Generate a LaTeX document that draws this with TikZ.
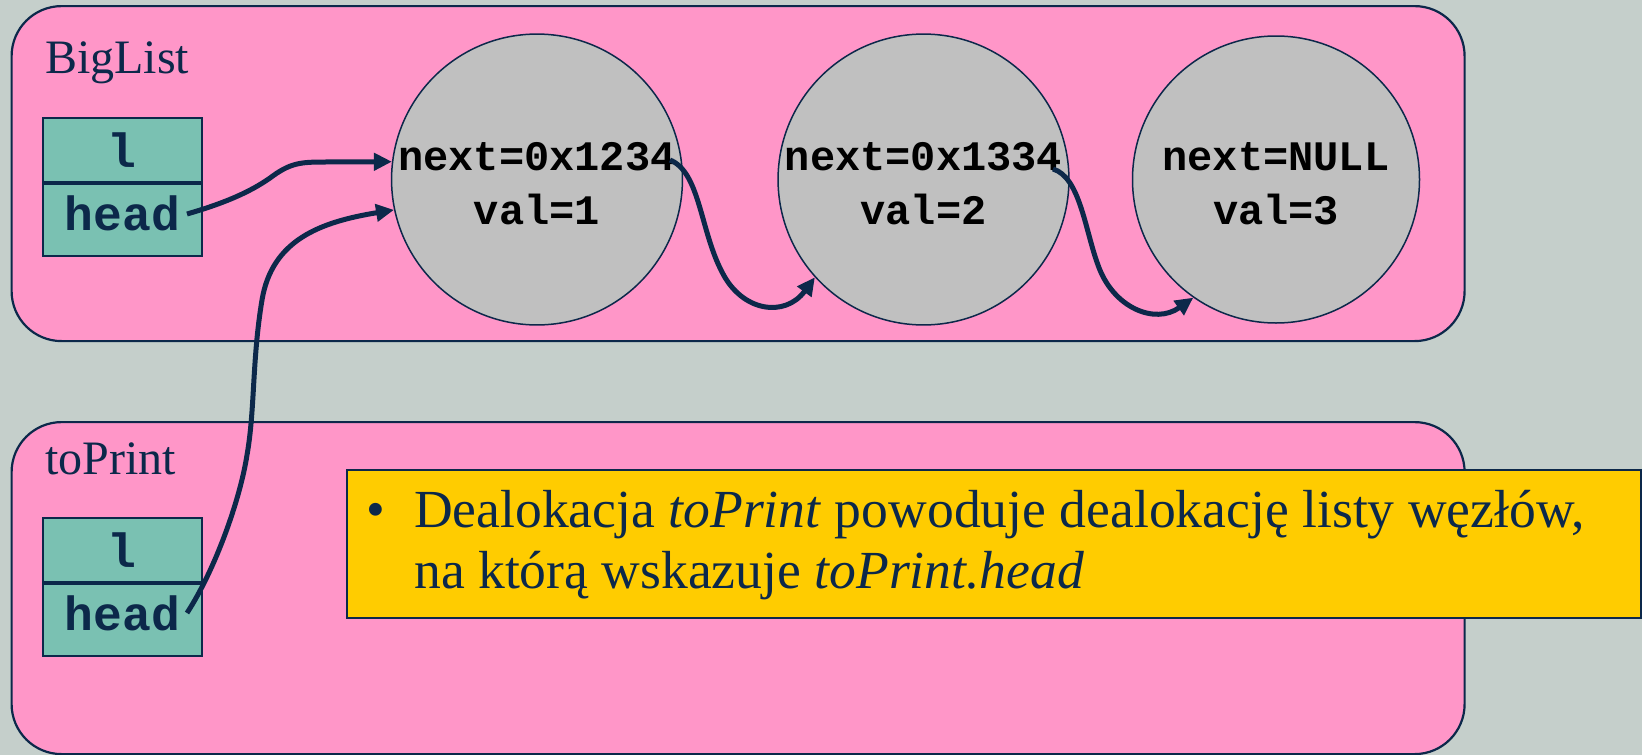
\documentclass[tikz,border=0pt]{standalone}
\usepackage{fontspec}
\setmainfont{Liberation Serif}
\newfontfamily\courbf{Liberation Mono}
\usetikzlibrary{arrows.meta}
\newcommand\myupstrut{\rule{0pt}{37pt}}
\definecolor{bgc}{RGB}{197,207,203}
\definecolor{pinkc}{RGB}{255,150,200}
\definecolor{tealc}{RGB}{122,193,178}
\definecolor{grayc}{RGB}{192,192,192}
\definecolor{yellowc}{RGB}{255,204,0}
\definecolor{navyc}{RGB}{12,40,74}
\tikzset{
  pinkbox/.style={draw=navyc, line width=2.2pt, fill=pinkc, rounded corners=50pt, anchor=north west, inner sep=0pt},
  cell/.style={draw=navyc, line width=1.8pt, fill=tealc, minimum width=159pt, inner sep=0pt, text=navyc, font=\courbf\bfseries\fontsize{48}{48}\selectfont},
  lnode/.style={draw=navyc, line width=1.5pt, fill=grayc, circle, minimum size=287pt, inner sep=0pt, align=center, font=\courbf\bfseries\fontsize{42}{54}\selectfont},
  lbl/.style={anchor=base west, inner sep=0pt, text=navyc, font=\fontsize{48}{48}\selectfont},
  notetxt/.style={anchor=base west, inner sep=0pt, text=navyc, font=\fontsize{53.6}{61}\selectfont},
  ptr/.style={draw=navyc, line width=5pt, -{Triangle[length=18pt,width=17pt]}}
}
\begin{document}
\begin{tikzpicture}[x=1pt,y=-1pt]
\useasboundingbox (0,0) rectangle (1642,755);
\fill[bgc] (0,0) rectangle (1642,755);
% containers
\node[pinkbox, minimum width=1453pt, minimum height=335pt] (big) at (10.5,5) {};
\node[pinkbox, minimum width=1453pt, minimum height=332pt] (tp) at (10.5,421) {};
\node[lbl] (bigl) at (45,73) {BigList};
\node[lbl] (tpl) at (45,474) {toPrint};
% struct cells
\node[cell, minimum height=64pt, anchor=north west] (l1) at (42,117) {l};
\node[cell, minimum height=72pt, anchor=north, text depth=13pt] (h1) at (l1.south) {head};
\node[cell, minimum height=64pt, anchor=north west] (l2) at (42,517) {l};
\node[cell, minimum height=72pt, anchor=north, text depth=13pt] (h2) at (l2.south) {head};
% list nodes
\node[lnode] (e1) at (537,179.5) {\myupstrut next=0x1234\\val=1};
\node[lnode] (e2) at (923.5,179.5) {\myupstrut next=0x1334\\val=2};
\node[lnode] (e3) at (1276,179.5) {\myupstrut next=NULL\\val=3};
% pointer start points
\coordinate (a1s) at (187,214);
\coordinate (a2s) at (187,613);
\coordinate (a3s) at (670,160);
\coordinate (a4s) at (1053,169);
% pointers
\draw[ptr] (a1s) .. controls (225,203) and (250,192) .. (270,178) .. controls (290,163) and (300,162) .. (325,162) -- (e1.173);
\draw[ptr] (a2s) .. controls (215,570) and (240,500) .. (247,455) .. controls (255,410) and (252,360) .. (262,300) .. controls (272,240) and (320,222) .. (e1.192);
\draw[ptr] (a3s) .. controls (700,172) and (700,230) .. (722,272) .. controls (742,312) and (785,318) .. (e2.222);
\draw[ptr] (a4s) .. controls (1080,177) and (1085,230) .. (1098,265) .. controls (1113,308) and (1155,325) .. (e3.235);
% note
\node[draw=navyc, line width=2pt, fill=yellowc, anchor=north west, minimum width=1294pt, minimum height=148pt, inner sep=0pt] (note) at (346,469) {};
\node[notetxt] (n1) at (366,527) {\makebox[48pt][l]{\textbullet}Dealokacja \textit{toPrint} powoduje dealokację listy węzłów,};
\node[notetxt] (n2) at (414,588) {na którą wskazuje \textit{toPrint.head}};
\end{tikzpicture}
\end{document}
